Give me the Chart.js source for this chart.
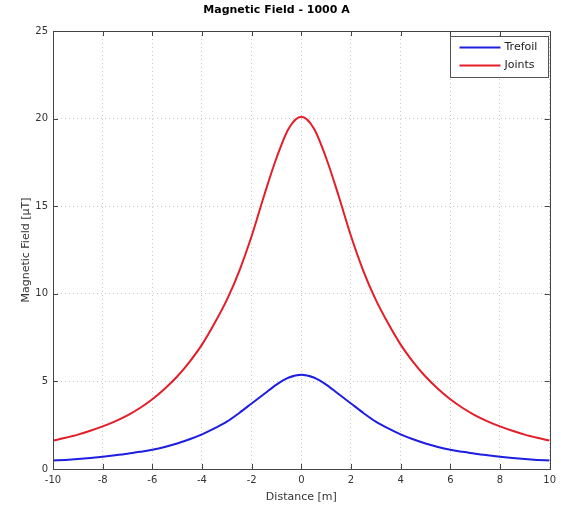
<!DOCTYPE html>
<html>
<head>
<meta charset="utf-8">
<script src="https://cdn.jsdelivr.net/npm/chart.js@4.4.1/dist/chart.umd.min.js"></script>
<style>
  html, body { margin: 0; padding: 0; background: #fff; }
  #wrap { width: 561px; height: 506px; }
</style>
</head>
<body>
<div id="wrap"><canvas id="c" width="561" height="506"></canvas></div>
<script>
// Lateral distance from the cable axis [m]
const distance = [
  -10, -9.5, -9, -8.5, -8, -7.5, -7, -6.5, -6, -5.5, -5, -4.5, -4, -3.5, -3, -2.5, -2, -1.5, -1, -0.5,
  0,
  0.5, 1, 1.5, 2, 2.5, 3, 3.5, 4, 4.5, 5, 5.5, 6, 6.5, 7, 7.5, 8, 8.5, 9, 9.5, 10
];

// Magnetic flux density [µT], trefoil formation
const trefoil = [
  0.48, 0.52, 0.57, 0.63, 0.70, 0.78, 0.87, 0.98, 1.10, 1.26, 1.46, 1.70, 1.98, 2.32, 2.70, 3.20, 3.74, 4.28, 4.82, 5.22,
  5.38,
  5.22, 4.82, 4.28, 3.74, 3.20, 2.70, 2.32, 1.98, 1.70, 1.46, 1.26, 1.10, 0.98, 0.87, 0.78, 0.70, 0.63, 0.57, 0.52, 0.48
];

// Magnetic flux density [µT], at the joints
const joints = [
  1.62, 1.78, 1.96, 2.18, 2.43, 2.72, 3.06, 3.48, 3.98, 4.58, 5.28, 6.12, 7.10, 8.30, 9.65, 11.30, 13.30, 15.60, 17.75, 19.45,
  20.10,
  19.45, 17.75, 15.60, 13.30, 11.30, 9.65, 8.30, 7.10, 6.12, 5.28, 4.58, 3.98, 3.48, 3.06, 2.72, 2.43, 2.18, 1.96, 1.78, 1.62
];

const seriesNames = ['Trefoil', 'Joints'];
const xTicks = [-10, -8, -6, -4, -2, 0, 2, 4, 6, 8, 10];
const yTicks = [0, 5, 10, 15, 20, 25];

const FONT = '"DejaVu Sans", Verdana, sans-serif';

// Axes box with inward tick marks on all four sides
const framePlugin = {
  id: 'frame',
  afterDraw(chart) {
    const { ctx, chartArea: a, scales } = chart;
    const len = 5;
    ctx.save();
    ctx.strokeStyle = '#444';
    ctx.lineWidth = 1;
    ctx.beginPath();
    xTicks.forEach(v => {
      const px = Math.round(scales.x.getPixelForValue(v)) + 0.5;
      ctx.moveTo(px, a.bottom); ctx.lineTo(px, a.bottom - len);
      ctx.moveTo(px, a.top); ctx.lineTo(px, a.top + len);
    });
    yTicks.forEach(v => {
      const py = Math.round(scales.y.getPixelForValue(v)) + 0.5;
      ctx.moveTo(a.left, py); ctx.lineTo(a.left + len, py);
      ctx.moveTo(a.right, py); ctx.lineTo(a.right - len, py);
    });
    ctx.stroke();
    ctx.strokeRect(Math.round(a.left) + 0.5, Math.round(a.top) + 0.5,
                   Math.round(a.right - a.left), Math.round(a.bottom - a.top));
    ctx.restore();
  }
};

// Boxed legend in the upper right corner of the plot
const legendBoxPlugin = {
  id: 'legendBox',
  afterDraw(chart) {
    const { ctx, chartArea: a } = chart;
    const w = 98, h = 41;
    const x0 = Math.round(a.right) - 100 + 0.5, y0 = Math.round(a.top) + 5.5;
    ctx.save();
    ctx.fillStyle = '#fff';
    ctx.fillRect(x0, y0, w, h);
    ctx.strokeStyle = '#555';
    ctx.lineWidth = 1;
    ctx.strokeRect(x0, y0, w, h);
    ctx.font = '11px ' + FONT;
    ctx.textBaseline = 'middle';
    chart.data.datasets.forEach((ds, i) => {
      const y = y0 + 11 + i * 18;
      ctx.strokeStyle = ds.borderColor;
      ctx.lineWidth = 2;
      ctx.beginPath();
      ctx.moveTo(x0 + 9, y);
      ctx.lineTo(x0 + 50, y);
      ctx.stroke();
      ctx.fillStyle = '#222';
      ctx.fillText(ds.label, x0 + 54, y);
    });
    ctx.restore();
  }
};

new Chart(document.getElementById('c'), {
  type: 'line',
  data: {
    datasets: [
      {
        label: seriesNames[0],
        data: distance.map((d, i) => ({ x: d, y: trefoil[i] })),
        borderColor: 'rgb(30, 30, 225)',
        borderWidth: 2,
        pointRadius: 0,
        cubicInterpolationMode: 'monotone'
      },
      {
        label: seriesNames[1],
        data: distance.map((d, i) => ({ x: d, y: joints[i] })),
        borderColor: 'rgb(228, 30, 40)',
        borderWidth: 2,
        pointRadius: 0,
        cubicInterpolationMode: 'monotone'
      }
    ]
  },
  options: {
    responsive: false,
    animation: false,
    devicePixelRatio: 1,
    layout: { padding: { left: 0, right: 8, top: 0, bottom: 0 } },
    plugins: {
      legend: { display: false },
      tooltip: { enabled: false },
      title: {
        display: true,
        text: 'Magnetic Field - 1000 A',
        color: '#000',
        font: { family: FONT, size: 11, weight: 'bold' },
        padding: { top: 4, bottom: 13.8 }
      }
    },
    scales: {
      x: {
        type: 'linear',
        min: -10,
        max: 10,
        afterBuildTicks: s => { s.ticks = xTicks.map(v => ({ value: v })); },
        afterFit: s => { s.height = 37; },
        grid: { color: '#c8c8c8', lineWidth: 1, drawTicks: false },
        border: { display: false, dash: [1, 3] },
        ticks: { color: '#333', font: { family: FONT, size: 10 }, padding: 5, maxRotation: 0 },
        title: {
          display: true,
          text: 'Distance [m]',
          color: '#333',
          font: { family: FONT, size: 11 },
          padding: { top: 0, bottom: 2 }
        }
      },
      y: {
        type: 'linear',
        min: 0,
        max: 25,
        afterBuildTicks: s => { s.ticks = yTicks.map(v => ({ value: v })); },
        afterFit: s => { s.width = 53; },
        grid: { color: '#c8c8c8', lineWidth: 1, drawTicks: false },
        border: { display: false, dash: [1, 3] },
        ticks: { color: '#333', font: { family: FONT, size: 10 }, padding: 5 },
        title: {
          display: true,
          text: 'Magnetic Field [µT]',
          color: '#333',
          font: { family: FONT, size: 11 },
          padding: { top: 20, bottom: 0 }
        }
      }
    }
  },
  plugins: [framePlugin, legendBoxPlugin]
});
</script>
</body>
</html>
